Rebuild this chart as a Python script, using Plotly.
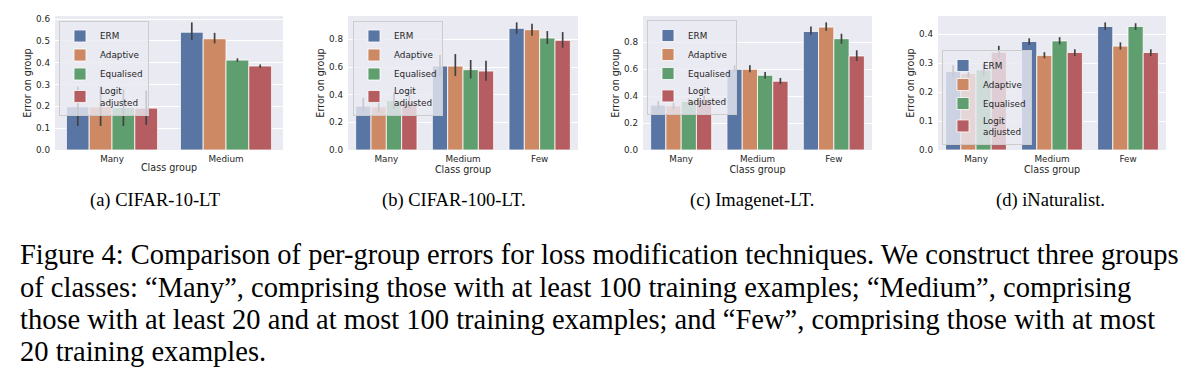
import plotly.graph_objects as go

# ---------------- data ----------------
methods = ["ERM", "Adaptive", "Equalised", "Logit<br>adjusted"]
groups_two = ["Many", "Medium"]
groups_three = ["Many", "Medium", "Few"]

# (a) CIFAR-10-LT  rows: ERM, Adaptive, Equalised, Logit adjusted
cifar10_mean = [[0.198, 0.540], [0.198, 0.510], [0.195, 0.412], [0.192, 0.385]]
cifar10_low = [[0.110, 0.504], [0.110, 0.489], [0.110, 0.405], [0.115, 0.377]]
cifar10_high = [[0.290, 0.585], [0.293, 0.537], [0.278, 0.420], [0.272, 0.392]]

# (b) CIFAR-100-LT
cifar100_mean = [[0.318, 0.607, 0.880], [0.313, 0.607, 0.870], [0.357, 0.581, 0.810], [0.340, 0.571, 0.793]]
cifar100_low = [[0.277, 0.535, 0.841], [0.270, 0.535, 0.827], [0.296, 0.518, 0.766], [0.296, 0.501, 0.740]]
cifar100_high = [[0.378, 0.687, 0.923], [0.369, 0.694, 0.913], [0.414, 0.651, 0.860], [0.393, 0.646, 0.853]]

# (c) Imagenet-LT
imagenet_mean = [[0.333, 0.598, 0.879], [0.328, 0.598, 0.911], [0.360, 0.554, 0.825], [0.377, 0.510, 0.697]]
imagenet_low = [[0.300, 0.579, 0.855], [0.300, 0.576, 0.884], [0.337, 0.530, 0.788], [0.345, 0.488, 0.660]]
imagenet_high = [[0.362, 0.628, 0.916], [0.352, 0.628, 0.946], [0.382, 0.579, 0.862], [0.401, 0.534, 0.739]]

# (d) iNaturalist
inat_mean = [[0.271, 0.375, 0.427], [0.265, 0.327, 0.359], [0.277, 0.377, 0.427], [0.338, 0.337, 0.337]]
inat_low = [[0.251, 0.363, 0.415], [0.248, 0.317, 0.347], [0.256, 0.365, 0.415], [0.317, 0.325, 0.325]]
inat_high = [[0.293, 0.386, 0.441], [0.288, 0.338, 0.372], [0.296, 0.390, 0.438], [0.360, 0.348, 0.348]]

subcaptions = ["(a) CIFAR-10-LT", "(b) CIFAR-100-LT.", "(c) Imagenet-LT.", "(d) iNaturalist."]
caption_lines = [
    "Figure 4: Comparison of per-group errors for loss modification techniques. We construct three groups",
    "of classes: \u201cMany\u201d, comprising those with at least 100 training examples; \u201cMedium\u201d, comprising",
    "those with at least 20 and at most 100 training examples; and \u201cFew\u201d, comprising those with at most",
    "20 training examples.",
]

# ---------------- style ----------------
PAGE_OFFSET = 8  # default body margin of the html page
WIN_W, WIN_H = 1194, 371
W, H = WIN_W - PAGE_OFFSET, WIN_H - PAGE_OFFSET


def px_x(x):
    return (x - PAGE_OFFSET) / W


def px_y(y):
    return 1 - (y - PAGE_OFFSET) / H


colors = ["#5975A4", "#CC8963", "#5F9E6E", "#B55D60"]
txt = "#262626"
sans = "DejaVu Sans"
serif = "Liberation Serif"

panels = [
    dict(groups=groups_two, mean=cifar10_mean, low=cifar10_low, high=cifar10_high,
         px=(55, 283), dtick=0.1, legend_pos=(59, 20.5, "top"), cap_x=155),
    dict(groups=groups_three, mean=cifar100_mean, low=cifar100_low, high=cifar100_high,
         px=(348, 578), dtick=0.2, legend_pos=(353, 20.5, "top"), cap_x=454),
    dict(groups=groups_three, mean=imagenet_mean, low=imagenet_low, high=imagenet_high,
         px=(643, 872), dtick=0.2, legend_pos=(647, 20, "top"), cap_x=752),
    dict(groups=groups_three, mean=inat_mean, low=inat_low, high=inat_high,
         px=(938, 1166), dtick=0.1, legend_pos=(942, 145, "bottom"), cap_x=1050),
]

plot_top, plot_bottom = 16, 150

fig = go.Figure()
layout = dict(
    width=W, height=H, autosize=False,
    margin=dict(l=0, r=0, t=0, b=0, autoexpand=False),
    paper_bgcolor="white", plot_bgcolor="#EAEAF2",
    barmode="group", bargap=0.2, bargroupgap=0,
    annotations=[],
)

for i, p in enumerate(panels):
    k = "" if i == 0 else str(i + 1)
    leg = "legend" + k
    for j, name in enumerate(methods):
        m = p["mean"][j]
        lo = p["low"][j]
        hi = p["high"][j]
        fig.add_trace(go.Bar(
            x=p["groups"], y=m, name=name,
            marker=dict(color=colors[j], line=dict(color="white", width=0.8)),
            error_y=dict(type="data", symmetric=False,
                         array=[h - v for h, v in zip(hi, m)],
                         arrayminus=[v - l for v, l in zip(m, lo)],
                         color="#424242", thickness=1.7, width=0),
            xaxis="x" + k, yaxis="y" + k, legend=leg,
        ))
    ymax = 1.05 * max(max(h) for h in p["high"])
    x0, x1 = p["px"]
    layout["xaxis" + k] = dict(
        domain=[px_x(x0), px_x(x1)], anchor="y" + k, automargin=False,
        showgrid=False, zeroline=False, showline=False, ticks="",
        tickfont=dict(family=sans, size=8.8, color=txt), ticklabelstandoff=2,
        title=dict(text="Class group", font=dict(family=sans, size=9.6, color=txt), standoff=1),
    )
    layout["yaxis" + k] = dict(
        domain=[px_y(plot_bottom), px_y(plot_top)], anchor="x" + k, automargin=False,
        range=[0, ymax], dtick=p["dtick"], tickformat=".1f",
        showgrid=True, gridcolor="white", gridwidth=1, zeroline=False, showline=False, ticks="",
        tickfont=dict(family=sans, size=8.8, color=txt), ticklabelstandoff=4,
        title=dict(text="Error on group", font=dict(family=sans, size=9.6, color=txt), standoff=2),
    )
    lx, ly, anchor = p["legend_pos"]
    layout[leg] = dict(
        x=px_x(lx), y=px_y(ly), xanchor="left", yanchor=anchor,
        xref="paper", yref="paper",
        bgcolor="rgba(234,234,242,0.8)", bordercolor="#CCCCCC", borderwidth=1,
        font=dict(family=sans, size=8.8, color=txt), tracegroupgap=0,
    )
    layout["annotations"].append(dict(
        text=subcaptions[i], x=px_x(p["cap_x"]), y=px_y(200), xref="paper", yref="paper",
        xanchor="center", yanchor="middle", showarrow=False,
        font=dict(family=serif, size=18.5, color="black"),
    ))

caption_centers = [254, 287, 319, 351]
for line, cy in zip(caption_lines, caption_centers):
    layout["annotations"].append(dict(
        text=line, x=px_x(18), y=px_y(cy), xref="paper", yref="paper",
        xanchor="left", yanchor="middle", showarrow=False,
        font=dict(family=serif, size=28.5, color="black"),
    ))

fig.update_layout(**layout)
fig.write_html("out.html")
